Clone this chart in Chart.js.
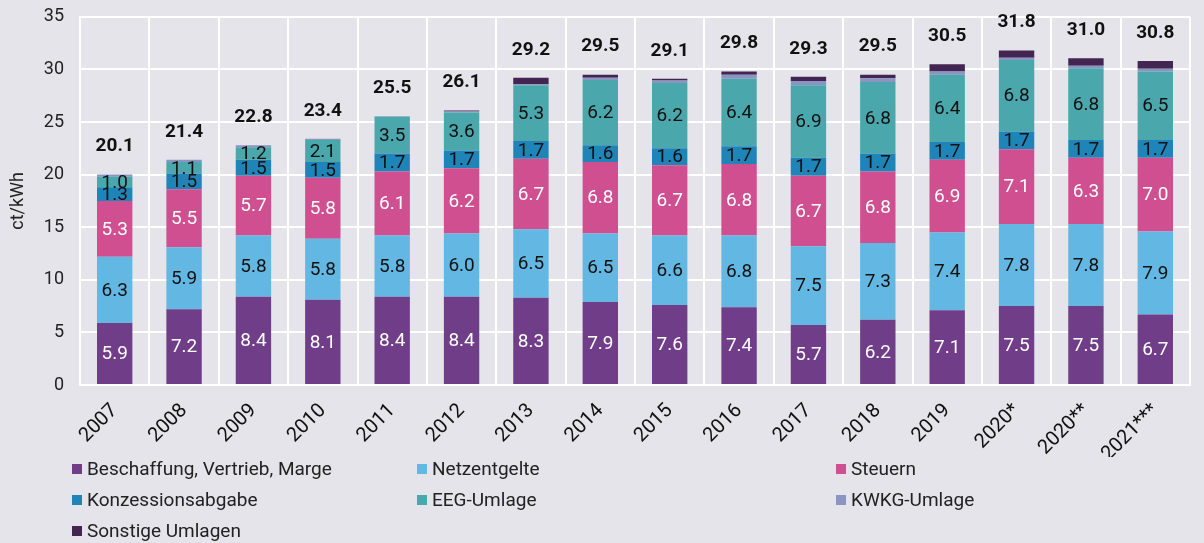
<!DOCTYPE html>
<html lang="de">
<head>
<meta charset="UTF-8">
<title>Strompreis Zusammensetzung</title>
<script src="https://cdn.jsdelivr.net/npm/chart.js"></script>
<style>
  body {
    margin: 0;
    background: #e4e4ea;
    font-family: Roboto, Arial, sans-serif;
  }
  #wrap {
    position: relative;
    width: 1204px;
    height: 543px;
    overflow: hidden;
  }
  #box {
    position: absolute;
    left: 0;
    top: -10px;
    width: 1204px;
    height: 467px;
  }
  #legende {
    position: absolute;
    left: 72px;
    top: 453px;
    display: grid;
    grid-template-columns: 345px 419px auto;
    grid-auto-rows: 31px;
    font-size: 19px;
    color: #222;
  }
  #legende div {
    display: flex;
    align-items: center;
  }
  #legende span {
    display: inline-block;
    width: 10px;
    height: 10px;
    margin-right: 5px;
  }
</style>
</head>
<body>
<div id="wrap">
  <div id="box"><canvas id="grafik"></canvas></div>
  <div id="legende"></div>
</div>

<script>
  const jahre = ['2007', '2008', '2009', '2010', '2011', '2012', '2013', '2014', '2015', '2016', '2017', '2018', '2019', '2020*', '2020**', '2021***'];

  const beschaffung = [5.9, 7.2, 8.4, 8.1, 8.4, 8.4, 8.3, 7.9, 7.6, 7.4, 5.7, 6.2, 7.1, 7.5, 7.5, 6.7];
  const netzentgelte = [6.3, 5.9, 5.8, 5.8, 5.8, 6.0, 6.5, 6.5, 6.6, 6.8, 7.5, 7.3, 7.4, 7.8, 7.8, 7.9];
  const steuern = [5.3, 5.5, 5.7, 5.8, 6.1, 6.2, 6.7, 6.8, 6.7, 6.8, 6.7, 6.8, 6.9, 7.1, 6.3, 7.0];
  const konzession = [1.3, 1.5, 1.5, 1.5, 1.7, 1.7, 1.7, 1.6, 1.6, 1.7, 1.7, 1.7, 1.7, 1.7, 1.7, 1.7];
  const eeg = [1.0, 1.1, 1.2, 2.1, 3.5, 3.6, 5.3, 6.2, 6.2, 6.4, 6.9, 6.8, 6.4, 6.8, 6.8, 6.5];
  const kwkg = [0.2, 0.2, 0.2, 0.1, 0.05, 0.1, 0.1, 0.2, 0.25, 0.4, 0.4, 0.35, 0.3, 0.2, 0.25, 0.25];
  const sonstige = [0, 0, 0, 0, 0, 0.1, 0.6, 0.3, 0.15, 0.3, 0.4, 0.35, 0.7, 0.7, 0.7, 0.75];

  const summen = ['20.1', '21.4', '22.8', '23.4', '25.5', '26.1', '29.2', '29.5', '29.1', '29.8', '29.3', '29.5', '30.5', '31.8', '31.0', '30.8'];

  const schrift = 'Roboto, Arial, sans-serif';

  const reihen = [
    { label: 'Beschaffung, Vertrieb, Marge', data: beschaffung, backgroundColor: '#703d88', textColor: '#fff', zeigen: true },
    { label: 'Netzentgelte', data: netzentgelte, backgroundColor: '#63b7e3', textColor: '#111', zeigen: true },
    { label: 'Steuern', data: steuern, backgroundColor: '#d04f91', textColor: '#fff', zeigen: true },
    { label: 'Konzessionsabgabe', data: konzession, backgroundColor: '#1f84b7', textColor: '#111', zeigen: true },
    { label: 'EEG-Umlage', data: eeg, backgroundColor: '#4aa8ad', textColor: '#111', zeigen: true },
    { label: 'KWKG-Umlage', data: kwkg, backgroundColor: '#8a95c1', zeigen: false },
    { label: 'Sonstige Umlagen', data: sonstige, backgroundColor: '#432552', zeigen: false }
  ];

  // Werte in die Segmente schreiben + Summe oben drauf
  const beschriftung = {
    id: 'beschriftung',
    afterDatasetsDraw(chart) {
      const ctx = chart.ctx;
      ctx.save();
      ctx.textAlign = 'center';
      ctx.textBaseline = 'middle';
      ctx.font = '19px ' + schrift;
      chart.data.datasets.forEach((ds, i) => {
        if (!ds.zeigen) return;
        chart.getDatasetMeta(i).data.forEach((bar, j) => {
          const p = bar.getProps(['x', 'y', 'base'], true);
          ctx.fillStyle = ds.textColor;
          ctx.fillText(ds.data[j].toFixed(1), p.x, (p.y + p.base) / 2 + 1);
        });
      });
      ctx.font = 'bold 19px ' + schrift;
      ctx.fillStyle = '#111';
      jahre.forEach((j, k) => {
        let oben = Infinity, x = 0;
        chart.data.datasets.forEach((ds, i) => {
          const bar = chart.getDatasetMeta(i).data[k];
          const p = bar.getProps(['x', 'y'], true);
          oben = Math.min(oben, p.y);
          x = p.x;
        });
        ctx.fillText(summen[k], x, oben - 28);
      });
      ctx.restore();
    }
  };

  new Chart(document.getElementById('grafik'), {
    type: 'bar',
    data: {
      labels: jahre,
      datasets: reihen.map(r => ({
        label: r.label,
        data: r.data,
        backgroundColor: r.backgroundColor,
        textColor: r.textColor,
        zeigen: r.zeigen,
        borderWidth: 0,
        categoryPercentage: 1,
        barPercentage: 0.51
      }))
    },
    options: {
      responsive: true,
      maintainAspectRatio: false,
      animation: false,
      layout: { padding: { top: 5, right: 14, left: 0, bottom: 0 } },
      plugins: {
        legend: { display: false },
        tooltip: { enabled: false }
      },
      scales: {
        x: {
          stacked: true,
          grid: { color: '#fff', lineWidth: 2, drawTicks: false },
          border: { color: '#fff', width: 2 },
          ticks: {
            color: '#111',
            font: { family: schrift, size: 20 },
            minRotation: 45,
            maxRotation: 45,
            padding: 14
          },
          afterFit(s) { s.height = 72; }
        },
        y: {
          stacked: true,
          min: 0,
          max: 35,
          ticks: {
            stepSize: 5,
            color: '#222',
            font: { family: schrift, size: 18 },
            padding: 16
          },
          grid: { color: '#fff', lineWidth: 2, drawTicks: false },
          border: { color: '#fff', width: 2 },
          title: {
            display: true,
            text: 'ct/kWh',
            color: '#222',
            font: { family: schrift, size: 18 },
            padding: { top: 8, bottom: 0 }
          },
          afterFit(s) { s.width = 80; }
        }
      }
    },
    plugins: [beschriftung]
  });

  // Legende als HTML, drei Spalten wie im Original
  const leg = document.getElementById('legende');
  reihen.forEach(r => {
    const d = document.createElement('div');
    d.innerHTML = '<span style="background:' + r.backgroundColor + '"></span>' + r.label;
    leg.appendChild(d);
  });
</script>
</body>
</html>
